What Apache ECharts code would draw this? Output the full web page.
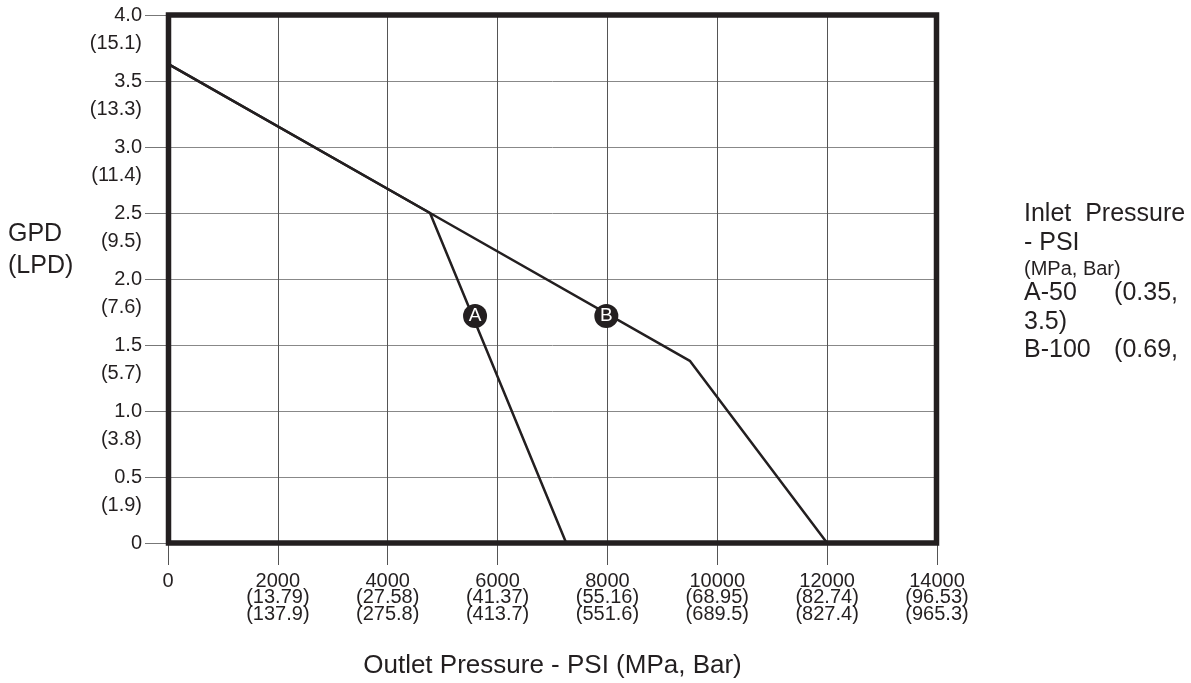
<!DOCTYPE html>
<html><head><meta charset="utf-8">
<script src="https://cdn.jsdelivr.net/npm/echarts@6/dist/echarts.min.js"></script>
<style>html,body{margin:0;padding:0;background:#fff}#c{width:1191px;height:683px}</style>
</head><body><div id="c"></div>
<script>
const xTicks = [0, 2000, 4000, 6000, 8000, 10000, 12000, 14000];
const xTickMPa = ['', '13.79', '27.58', '41.37', '55.16', '68.95', '82.74', '96.53'];
const xTickBar = ['', '137.9', '275.8', '413.7', '551.6', '689.5', '827.4', '965.3'];
const yTicks = [0, 0.5, 1.0, 1.5, 2.0, 2.5, 3.0, 3.5, 4.0];
const yTickLPD = ['', '1.9', '3.8', '5.7', '7.6', '9.5', '11.4', '13.3', '15.1'];
const curveA = [[0, 3.63], [4770, 2.5], [7250, 0]];
const curveB = [[0, 3.63], [4770, 2.5], [9500, 1.38], [12000, 0]];
const markers = [[5590, 1.72, 'A'], [7980, 1.72, 'B']];
const legendLeft = ['Inlet  Pressure', '- PSI', '(MPa, Bar)', 'A-50', '3.5)', 'B-100'];
const legendRight = ['', '', '', '(0.35,', '', '(0.69,'];

const ink = '#231f20';
const font = '"Liberation Sans", Arial, Helvetica, sans-serif';
const chart = echarts.init(document.getElementById('c'));

const legendY = [214, 243, 269, 293, 322, 350];
const graphics = [];
legendLeft.forEach((t, i) => {
  const fs = i === 2 ? 20 : 25;
  graphics.push({ type: 'text', x: 1024, y: legendY[i], z: 20,
    style: { text: t, font: fs + 'px ' + font, fill: ink, textAlign: 'left', textVerticalAlign: 'middle' } });
  if (legendRight[i]) {
    graphics.push({ type: 'text', x: 1178, y: legendY[i], z: 20,
      style: { text: legendRight[i], font: fs + 'px ' + font, fill: ink, textAlign: 'right', textVerticalAlign: 'middle' } });
  }
});
graphics.push({ type: 'text', x: 8, y: 234, style: { text: 'GPD', font: '25px ' + font, fill: ink, textVerticalAlign: 'middle' } });
graphics.push({ type: 'text', x: 8, y: 266, style: { text: '(LPD)', font: '25px ' + font, fill: ink, textVerticalAlign: 'middle' } });
graphics.push({ type: 'rect', z: 50, shape: { x: 168.5, y: 15, width: 768, height: 528 },
  style: { fill: 'none', stroke: ink, lineWidth: 5.5 } });

const yBase = { type: 'value', min: 0, max: 4, interval: 0.5, position: 'left', axisLine: { show: false } };

chart.setOption({
  animation: false,
  textStyle: { fontFamily: font },
  grid: { left: 168, top: 15, right: 254, bottom: 140, containLabel: false, outerBoundsMode: 'none' },
  graphic: graphics,
  xAxis: {
    type: 'value', min: 0, max: 14000, interval: 2000,
    name: 'Outlet Pressure - PSI (MPa, Bar)', nameLocation: 'middle', nameGap: 110,
    nameTextStyle: { fontSize: 26, color: ink, fontFamily: font },
    axisLine: { show: false },
    axisTick: { show: true, length: 22, lineStyle: { color: '#555', width: 1 } },
    splitLine: { show: true, lineStyle: { color: '#555', width: 1 } },
    axisLabel: {
      margin: 30, color: ink, fontSize: 20, lineHeight: 16.5, fontFamily: font,
      showMinLabel: true, showMaxLabel: true, hideOverlap: false,
      formatter: v => {
        const i = xTicks.indexOf(v);
        if (i <= 0) return String(v);
        return v + '\n(' + xTickMPa[i] + ')\n(' + xTickBar[i] + ')';
      }
    }
  },
  yAxis: [
    Object.assign({}, yBase, {
      axisTick: { show: true, length: 23, lineStyle: { color: '#777', width: 1 } },
      splitLine: { show: true, lineStyle: { color: '#888', width: 1 } },
      axisLabel: {
        margin: 26, color: ink, fontSize: 20, fontFamily: font, align: 'right',
        showMinLabel: true, showMaxLabel: true, hideOverlap: false,
        formatter: v => (v === 0 ? '0' : v.toFixed(1))
      }
    }),
    Object.assign({}, yBase, {
      axisTick: { show: false }, splitLine: { show: false },
      axisLabel: {
        margin: 26, color: ink, fontSize: 20, lineHeight: 56, verticalAlign: 'top', fontFamily: font, align: 'right',
        showMinLabel: true, showMaxLabel: true, hideOverlap: false,
        formatter: v => {
          const i = yTicks.indexOf(v);
          return i <= 0 ? '' : '(' + yTickLPD[i] + ')';
        }
      }
    })
  ],
  series: [
    { type: 'line', data: curveA, symbol: 'none', lineStyle: { color: ink, width: 2.5 }, z: 3 },
    { type: 'line', data: curveB, symbol: 'none', lineStyle: { color: ink, width: 2.5 }, z: 3 },
    {
      type: 'scatter', data: markers, symbol: 'circle', symbolSize: 24,
      itemStyle: { color: ink, opacity: 1 }, z: 5,
      label: { show: true, position: 'inside', formatter: p => p.data[2], color: '#fff', fontSize: 19, fontFamily: font }
    }
  ]
});
</script></body></html>
